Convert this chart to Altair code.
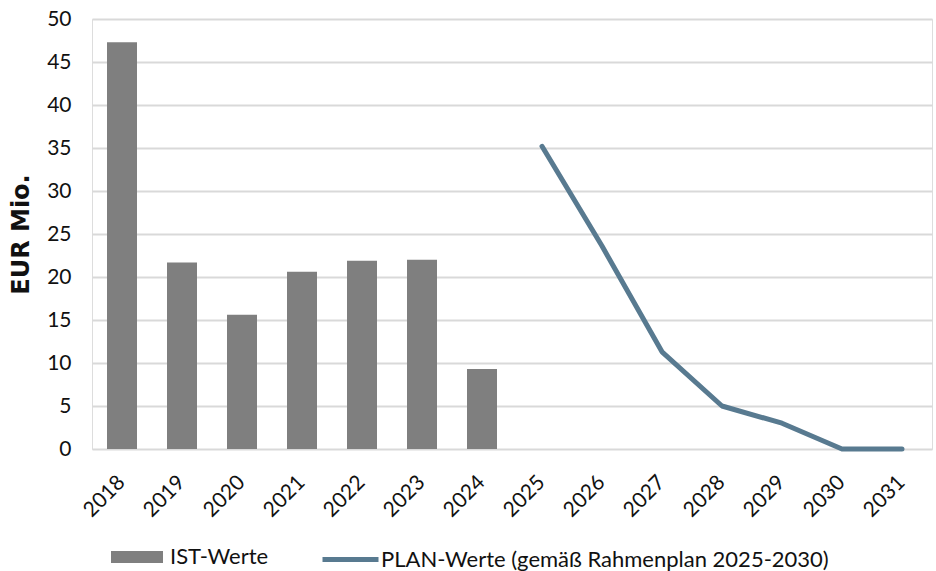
import altair as alt
import pandas as pd

years = [str(y) for y in range(2018, 2032)]
ist_years = ["2018", "2019", "2020", "2021", "2022", "2023", "2024"]
ist_values = [47.3, 21.7, 15.6, 20.6, 21.9, 22.0, 9.3]
plan_years = ["2025", "2026", "2027", "2028", "2029", "2030", "2031"]
plan_values = [35.2, 23.6, 11.3, 5.0, 3.0, 0.0, 0.0]
y_ticks = [0, 5, 10, 15, 20, 25, 30, 35, 40, 45, 50]

ist_df = pd.DataFrame({"year": ist_years, "value": ist_values, "series": "IST-Werte"})
plan_df = pd.DataFrame({"year": plan_years, "value": plan_values,
                        "series": "PLAN-Werte (gemäß Rahmenplan 2025-2030)"})

FONT = "Lato"
TXT = "#111111"

x_enc = alt.X("year:N", scale=alt.Scale(domain=years, paddingInner=0.5, paddingOuter=0.25),
              axis=alt.Axis(title=None, labelAngle=-45, labelAlign="right", labelBaseline="middle",
                            labelPadding=30, ticks=False, domain=False, labelFontSize=21,
                            labelFont=FONT, labelColor=TXT, grid=False))
y_enc = alt.Y("value:Q", scale=alt.Scale(domain=[0, 50], nice=False),
              axis=alt.Axis(title="EUR Mio.", values=y_ticks, ticks=False, domain=False,
                            labelFontSize=21, labelFont=FONT, labelColor=TXT, labelPadding=21,
                            titleFontSize=24, titleFont="DejaVu Sans", titleFontWeight="bold",
                            titleColor=TXT, titlePadding=13,
                            gridColor="#d9d9d9", gridWidth=2))

bars = alt.Chart(ist_df).mark_bar(size=30).encode(
    x=x_enc, y=y_enc,
    fill=alt.Fill("series:N", scale=alt.Scale(domain=["IST-Werte"], range=["#7f7f7f"]),
                  legend=alt.Legend(title=None, orient="none", legendX=34, legendY=527,
                                    symbolType="M-2.6,-0.6H2.6V0.6H-2.6Z", symbolSize=400,
                                    symbolStrokeWidth=0, labelFontSize=22, labelFont=FONT,
                                    labelColor=TXT, labelOffset=22, labelLimit=0, padding=0)),
)

line = alt.Chart(plan_df).mark_line(strokeWidth=5, strokeCap="round", strokeJoin="round").encode(
    x=x_enc, y=y_enc,
    stroke=alt.Stroke("series:N",
                      scale=alt.Scale(domain=["PLAN-Werte (gemäß Rahmenplan 2025-2030)"],
                                      range=["#587a90"]),
                      legend=alt.Legend(title=None, orient="none", legendX=228, legendY=510,
                                        symbolType="stroke", symbolSize=3136,
                                        symbolStrokeWidth=5, labelFontSize=22, labelFont=FONT,
                                        labelColor=TXT, labelOffset=0, labelLimit=0, padding=0)),
)

chart = alt.layer(bars, line).resolve_scale(fill="independent", stroke="independent").properties(
    width=840, height=430,
    autosize=alt.AutoSizeParams(type="none"),
    padding={"left": 92, "top": 19, "right": 4, "bottom": 122},
).configure_view(stroke=None).configure(background="white")

chart.save("out.html", embed_options={"renderer": "svg", "actions": False})
